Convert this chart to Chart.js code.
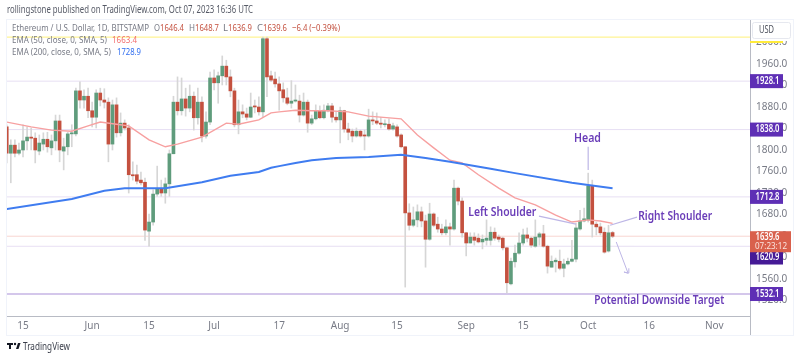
<!DOCTYPE html>
<html><head><meta charset="utf-8">
<style>html,body{margin:0;padding:0;background:#fff}canvas{display:block;filter:blur(0.45px)}</style>
<script src="https://cdn.jsdelivr.net/npm/chart.js@4"></script>
</head><body><canvas id="c" width="800" height="359"></canvas>
<script>
const firstDay=-4;
const opens=[1843,1794,1809,1794,1800,1817,1824,1822,1798,1811,1820,1804,1817,1854,1798,1806,1830,1830,1910,1893,1900,1873,1861,1906,1893,1889,1811,1884,1832,1850,1841,1754,1754,1744,1740,1649,1666,1718,1727,1720,1737,1793,1889,1873,1895,1878,1900,1860,1889,1826,1852,1934,1925,1938,1956,1936,1910,1847,1871,1867,1861,1882,1880,1871,2007,1938,1932,1923,1912,1897,1887,1891,1891,1865,1889,1850,1858,1873,1860,1873,1882,1861,1856,1873,1839,1835,1826,1835,1828,1826,1856,1854,1850,1847,1848,1839,1843,1828,1806,1683,1660,1670,1685,1668,1634,1681,1662,1653,1646,1657,1653,1729,1705,1646,1627,1638,1636,1629,1632,1632,1647,1638,1636,1618,1551,1592,1608,1627,1642,1636,1621,1638,1644,1621,1582,1592,1593,1580,1588,1593,1597,1653,1668,1670,1733,1662,1657,1647,1612,1646.4];
const highs=[1847,1819,1819,1813,1847,1843,1841,1832,1828,1832,1833,1828,1865,1865,1822,1833,1847,1915,1927,1912,1915,1889,1912,1915,1914,1897,1893,1897,1869,1856,1847,1778,1772,1759,1748,1681,1726,1770,1744,1748,1800,1900,1936,1934,1915,1921,1908,1915,1899,1871,1945,1949,1945,1975,1967,1949,1915,1893,1884,1878,1906,1893,1899,2010,2010,1947,1945,1936,1925,1915,1929,1921,1902,1906,1893,1865,1884,1882,1884,1887,1887,1871,1880,1874,1850,1839,1841,1837,1837,1876,1871,1869,1861,1856,1858,1850,1847,1830,1806,1700,1694,1698,1694,1679,1701,1683,1675,1662,1670,1664,1744,1731,1711,1647,1646,1646,1644,1642,1670,1657,1655,1642,1638,1619,1599,1623,1646,1653,1655,1638,1670,1647,1660,1623,1603,1599,1614,1597,1599,1632,1664,1688,1692,1757,1744,1666,1664,1655,1660,1648.7];
const lows=[1776,1739,1787,1791,1787,1800,1800,1776,1791,1800,1796,1791,1800,1778,1763,1791,1806,1826,1878,1878,1860,1843,1841,1882,1878,1778,1800,1824,1826,1837,1720,1744,1737,1735,1632,1621,1660,1714,1714,1701,1714,1793,1865,1865,1863,1871,1837,1848,1815,1822,1847,1912,1887,1921,1921,1899,1843,1830,1860,1856,1860,1869,1865,1862,1899,1927,1917,1874,1889,1884,1878,1889,1852,1863,1833,1847,1856,1858,1858,1871,1852,1852,1813,1833,1819,1815,1824,1824,1800,1824,1847,1847,1841,1843,1837,1837,1824,1804,1545,1651,1657,1657,1657,1582,1632,1657,1647,1642,1642,1623,1651,1698,1638,1603,1627,1623,1627,1616,1623,1623,1632,1629,1614,1534,1549,1582,1606,1623,1629,1619,1619,1623,1619,1571,1582,1573,1577,1564,1586,1592,1592,1651,1666,1666,1638,1642,1642,1608,1610,1636.9];
const closes=[1794,1809,1794,1800,1817,1824,1822,1800,1813,1820,1806,1817,1854,1800,1806,1830,1832,1910,1893,1900,1873,1861,1906,1893,1889,1811,1884,1832,1850,1841,1754,1752,1742,1739,1651,1666,1718,1727,1720,1737,1793,1889,1873,1895,1878,1900,1860,1889,1826,1852,1934,1925,1938,1956,1936,1910,1847,1871,1867,1861,1880,1880,1871,2007,1936,1930,1923,1910,1897,1887,1891,1893,1865,1889,1850,1858,1873,1860,1874,1882,1861,1856,1873,1839,1833,1826,1835,1826,1826,1856,1854,1850,1848,1848,1839,1845,1826,1806,1683,1660,1670,1685,1668,1634,1681,1660,1653,1646,1657,1653,1729,1705,1646,1627,1638,1632,1629,1634,1636,1647,1636,1634,1618,1553,1593,1608,1627,1642,1636,1623,1638,1644,1621,1584,1593,1595,1580,1588,1593,1597,1655,1668,1672,1733,1662,1657,1646,1610,1646,1639.6];

const ema50Days=[-4,2,7,12,16,19,23,26,31,35,38,44,50,53,58,61,63,67,71,75,80,85,93,97,101,105,108,112,117,121,126,131,135,139,142,145];
const ema50Vals=[1852,1843,1837,1835,1845,1852,1848,1845,1819,1806,1811,1824,1850,1848,1856,1869,1871,1874,1873,1873,1871,1863,1858,1828,1804,1781,1776,1754,1729,1711,1698,1679,1666,1670,1668,1663.4];
const ema200Days=[-4,12,20,25,35,44,51,58,61,63,67,71,77,85,93,99,105,115,121,135,139,145];
const ema200Vals=[1690,1709,1724,1729,1729,1740,1752,1759,1767,1770,1776,1781,1785,1787,1791,1785,1778,1765,1757,1739,1735,1728.9];

const tickDays=[0,17,31,47,63,78,92,109,123,139,154,170];
const tickLabels=['15','Jun','15','Jul','17','Aug','15','Sep','15','Oct','16','Nov'];
const priceTicks=[1520,1560,1600,1640,1680,1720,1760,1800,1840,1880,1920,1960,2000];
const levels=[1928.1,1838.0,1712.8,1620.9];
const targetLevel=1532.1;
const lastPrice=1639.6;
const topLevel=2010;
const headLine=[[139,1806],[139,1763]];
const leftLine=[[126.9,1677],[136,1662]];
const rightLine=[[144.4,1660],[151,1675]];
const arrowLine=[[145.9,1629],[148.8,1571],[147.8,1573],[148.8,1571],[149,1580]];
const notes=[['Head',135.5,1822,27],['Left Shoulder',109.5,1683,68],['Right Shoulder',151.3,1677,74],['Potential Downside Target',140.5,1519,130]];
const badges=[['1928.1',1928.1,'#5e2fb5'],['1838.0',1838,'#5e2fb5'],['1712.8',1712.8,'#5e2fb5'],['1620.9',1600,'#451a96'],['1532.1',1532.1,'#5e2fb5']];

const XMIN=-3.94,XMAX=178.8,YMIN=1491.2,YMAX=2043.7;
const GREEN='#5f9c7c',RED='#c4513f',PURPLE='#6a3db8',SOFT='#bdb6e6';
const NARROW='"Liberation Sans Narrow","Noto Sans"';
const days=closes.map((_,i)=>firstDay+i);
const pts=a=>a.map(p=>({x:p[0],y:p[1]}));
const flat=v=>[{x:XMIN,y:v},{x:XMAX,y:v}];
const lineDs=(data,color,width,order)=>({type:'line',data,borderColor:color,borderWidth:width,pointRadius:0,tension:0,order,fill:false});

const overlay={id:'overlay',afterDraw(ch){
  const c=ch.ctx,x=ch.scales.x,y=ch.scales.y;
  c.save();
  c.textBaseline='middle';c.textAlign='left';
  const fit=(t,px,py,w,col)=>{const m=c.measureText(t).width;c.save();c.translate(px,py);c.scale(w/m,1);c.fillStyle=col;c.fillText(t,0,0);c.restore();};
  c.fillStyle='#fff';c.fillRect(751,19.5,42,21.5);c.fillRect(7,20,743,16);
  c.strokeStyle='#f0f3fa';c.lineWidth=1;c.strokeRect(6.5,19.5,787,316);
  c.fillStyle='#b8bbc4';c.fillRect(750,316,1,19);
  c.font='10.5px "Noto Sans"';
  fit('rollingstone published on TradingView.com, Oct 07, 2023 16:36 UTC',7,10,246,'#565a66');
  c.font='9.5px "Noto Sans"';
  const G='#787b86',R='#c4513f';
  fit('Ethereum / U.S. Dollar, 1D, BITSTAMP',12,28,137,G);
  fit('O',154,28,6,G);fit('1646.4',160,28,24,R);
  fit('H',189,28,6,G);fit('1648.7',195,28,24,R);
  fit('L',223,28,5,G);fit('1636.9',228,28,24,R);
  fit('C',257,28,6,G);fit('1639.6',263,28,24,R);
  fit('−6.4 (−0.39%)',292,28,48,R);
  fit('EMA (50, close, 0, SMA, 5)',12,40,95,G);fit('1663.4',112,40,25,'#f26d6d');
  fit('EMA (200, close, 0, SMA, 5)',12,52,99,G);fit('1728.9',117,52,24,'#2f6df0');
  c.fillStyle='#ffeb3b';c.fillRect(750,41,33,2);
  c.fillStyle='#fff';c.strokeStyle='#e6e8ef';c.beginPath();c.roundRect(752.5,22.5,38,16,2);c.fill();c.stroke();
  c.font='10px "Noto Sans"';fit('USD',759,30,15,'#4c505c');
  c.font='600 12px "Noto Sans"';
  notes.forEach(([t,d,p,w])=>fit(t,x.getPixelForValue(d),y.getPixelForValue(p),w,PURPLE));
  c.font='600 10px "Noto Sans"';
  badges.forEach(([t,p,col])=>{const py=y.getPixelForValue(p);c.fillStyle=col;c.fillRect(750,py-7,33,14);fit(t,755.5,py,24,'#fff');});
  const ly=y.getPixelForValue(lastPrice);
  c.fillStyle='#d9604c';c.fillRect(750,ly-5,41,21);
  fit('1639.6',755.5,ly+1,24,'#fff');
  c.font='9.5px "Noto Sans"';fit('07:23:12',755,ly+10,32,'#fbe3de');
  c.fillStyle='#131722';c.fillRect(7,343,6,2);c.fillRect(9,343,2,6);
  c.beginPath();c.arc(15,344,1.2,0,7);c.fill();
  c.beginPath();c.moveTo(16,349);c.lineTo(18,343);c.lineTo(20.5,343);c.lineTo(18.5,349);c.closePath();c.fill();
  c.font='11px "Noto Sans"';fit('TradingView',23,347,47,'#3a3e4a');
  c.restore();
}};

new Chart(document.getElementById('c'),{
  data:{datasets:[
    {type:'bar',data:days.map((d,i)=>({x:d,y:[opens[i],closes[i]]})),barThickness:3,minBarLength:1,grouped:false,
     backgroundColor:days.map((_,i)=>closes[i]>=opens[i]?GREEN:RED),order:5},
    {type:'bar',data:days.map((d,i)=>({x:d,y:[lows[i],highs[i]]})),barThickness:1,grouped:false,backgroundColor:'#d6d6d6',order:6},
    lineDs(ema50Days.map((d,i)=>({x:d,y:ema50Vals[i]})),'#f7a0a0',1.4,3),
    lineDs(ema200Days.map((d,i)=>({x:d,y:ema200Vals[i]})),'#3f7cf0',2,2),
    ...levels.map(v=>lineDs(flat(v),'rgba(103,58,183,0.16)',1,9)),
    lineDs(flat(targetLevel),'rgba(103,58,183,0.38)',1.6,9),
    lineDs(flat(lastPrice),'rgba(230,90,70,0.25)',1,9),
    lineDs(flat(topLevel),'rgba(255,235,59,0.55)',1.4,9),
    lineDs(pts(headLine),SOFT,1.2,1),
    lineDs(pts(leftLine),SOFT,1.2,1),
    lineDs(pts(rightLine),SOFT,1.2,1),
    lineDs(pts(arrowLine),SOFT,1,1)
  ]},
  options:{
    responsive:false,animation:false,
    layout:{padding:{left:7,right:7,top:19,bottom:24}},
    plugins:{legend:{display:false},tooltip:{enabled:false},title:{display:false}},
    scales:{
      x:{type:'linear',min:XMIN,max:XMAX,offset:false,
        afterBuildTicks:s=>{s.ticks=tickDays.map(v=>({value:v}));},
        afterFit:s=>{s.height=19;},
        grid:{display:false,drawTicks:false},border:{color:'#b8bbc4',width:1},
        ticks:{autoSkip:false,maxRotation:0,padding:4,color:'#787b86',font:{family:NARROW,size:10},
          callback:v=>tickLabels[tickDays.indexOf(v)]}},
      y:{type:'linear',position:'right',min:YMIN,max:YMAX,
        afterBuildTicks:s=>{s.ticks=priceTicks.map(v=>({value:v}));},
        afterFit:s=>{s.width=43;},
        grid:{display:false,drawTicks:false},border:{color:'#b8bbc4',width:1},
        ticks:{padding:6,color:'#787b86',font:{family:NARROW,size:10},callback:v=>v.toFixed(1)}}
    }
  },
  plugins:[overlay]
});
</script></body></html>
